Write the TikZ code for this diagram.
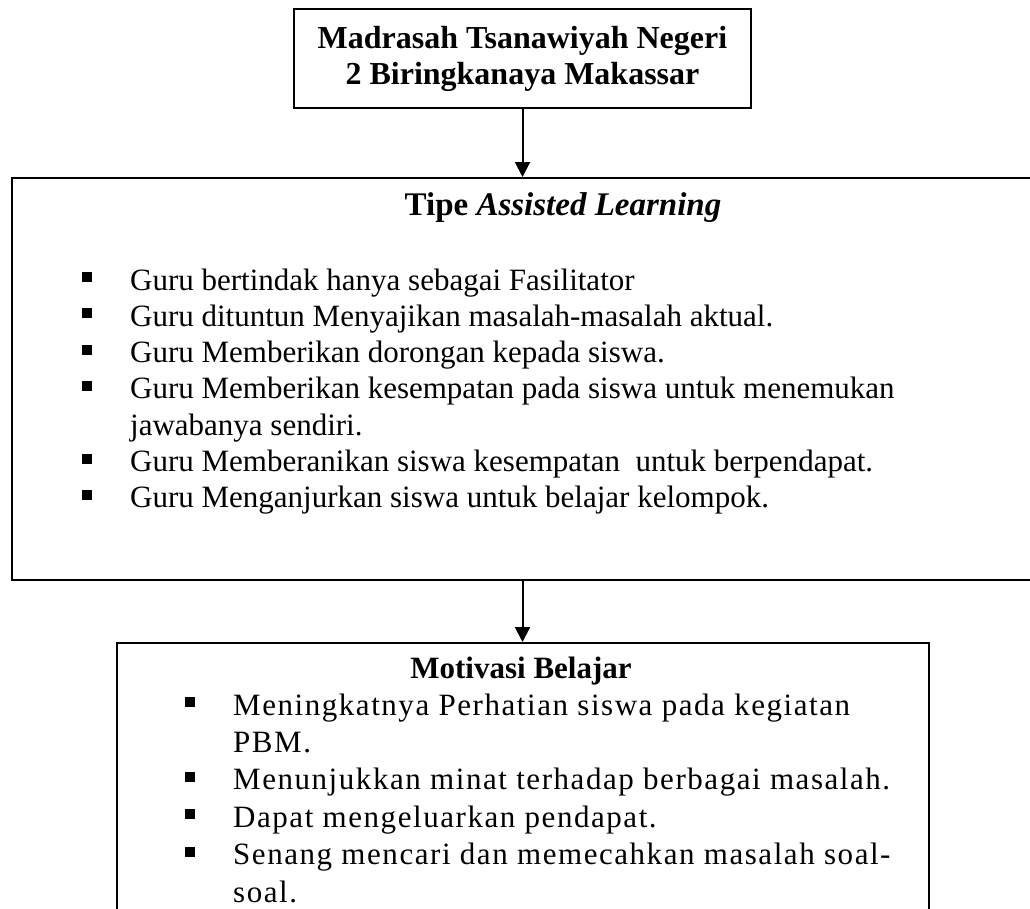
\documentclass[tikz,border=0pt]{standalone}
\usepackage{fontspec}
\setmainfont{Liberation Serif}
\newfontfamily\renggangfont{Liberation Serif}[LetterSpace=5]
\usetikzlibrary{arrows.meta}
\usetikzlibrary{positioning}
% one bullet item with hanging indent
\newcommand{\butir}[1]{\par\noindent\hangindent=48pt\hangafter=1%
  \makebox[48pt][l]{\rule[8pt]{10pt}{10pt}}#1}

\begin{document}
\begin{tikzpicture}[x=1pt,y=-1pt,
    kotak/.style={draw,line width=2pt,inner sep=0pt},
    panah/.style={-{Triangle[length=15pt,width=15pt]},line width=2pt},
    isi/.style={inner sep=0pt,anchor=base west,align=left}]
  \useasboundingbox (0,0) rectangle (1030,908);
  \clip (0,0) rectangle (1030,908);
  % school
  \node[kotak,minimum width=457pt,minimum height=99pt,align=center,
    font=\fontsize{32}{36}\selectfont\bfseries] (sekolah) at (522.5,58.5)
    {Madrasah Tsanawiyah Negeri\\2 Biringkanaya Makassar};
  % learning model box (runs off the right edge)
  \node[kotak,anchor=north west,minimum width=1089pt,minimum height=402pt]
    (model) at (11,177) {};
  \node[inner sep=0pt,anchor=base,font=\fontsize{33}{36}\selectfont\bfseries]
    (judulmodel) at (563,215) {Tipe \textit{Assisted Learning}};
  \node[isi] (daftarmodel) at (82,290) {\parbox[t]{900pt}{%
    \fontsize{31}{36.3}\selectfont\raggedright
    \butir{Guru bertindak hanya sebagai Fasilitator}
    \butir{Guru dituntun Menyajikan masalah-masalah aktual.}
    \butir{Guru Memberikan dorongan kepada siswa.}
    \butir{Guru Memberikan kesempatan pada siswa untuk menemukan\newline jawabanya sendiri.}
    \butir{Guru Memberanikan siswa kesempatan ~untuk berpendapat.}
    \butir{Guru Menganjurkan siswa untuk belajar kelompok.}}};
  % motivation box
  \node[kotak,anchor=north west,minimum width=812pt,minimum height=300pt]
    (motivasi) at (116,642) {};
  \node[inner sep=0pt,anchor=base,font=\fontsize{31}{36}\selectfont\bfseries]
    (judulmotivasi) at (521,678) {Motivasi Belajar};
  \node[isi] (daftarmotivasi) at (185,715) {\parbox[t]{800pt}{%
    \fontsize{31}{37.4}\renggangfont\raggedright
    \butir{Meningkatnya Perhatian siswa pada kegiatan\newline PBM.}
    \butir{Menunjukkan minat terhadap berbagai masalah.}
    \butir{Dapat mengeluarkan pendapat.}
    \butir{Senang mencari dan memecahkan masalah soal-\newline soal.}}};
  % connectors
  \draw[panah] (sekolah.south) -- (sekolah.south |- model.north);
  \draw[panah] (sekolah.south |- model.south) -- (sekolah.south |- motivasi.north);
\end{tikzpicture}
\end{document}
